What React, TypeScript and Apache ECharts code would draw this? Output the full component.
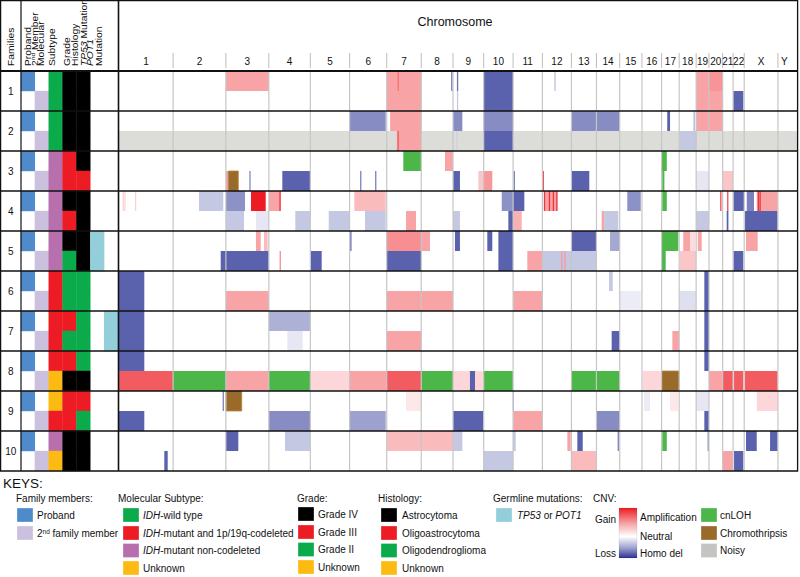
import React, { useEffect, useRef } from 'react';
import * as echarts from 'echarts';

const FONT = '"Liberation Sans", Arial, Helvetica, sans-serif';

// ---------- DATA ----------
const chromosomes = ['1','2','3','4','5','6','7','8','9','10','11','12','13','14','15','16','17','18','19','20','21','22','X','Y'];
const chromLengthsMb = [249.25,243.2,198.0,191.15,180.9,171.1,159.1,146.4,141.2,135.5,135.0,133.85,115.2,107.3,102.5,90.35,81.2,78.1,59.1,63.0,48.1,51.3,155.3,59.4];
const genomeMaxMb = 3124;

const families = ['1','2','3','4','5','6','7','8','9','10'];

// per sub-row (proband, 2nd member for each family)
const subtype = ['wt','wt','wt','wt','nc','nc','nc','nc','nc','nc','codel','codel','codel','codel','codel','unk','unk','codel','nc','unk'];
const grade = ['IV','IV','IV','IV','III','III','IV','III','IV','II','II','II','III','II','III','IV','III','III','IV','IV'];
const histology = ['A','A','A','A','A','OA','A','A','A','A','OD','OD','OD','OD','OD','A','OA','OD','A','A'];
const germline = ['','','','','','','','','TP53','TP53','','','POT1','POT1','','','','','',''];

// CNV segments: [sub-row, start (genome Mb), end (genome Mb), log2 ratio scaled -1..1]
const cnvSegments: number[][] = [
  // family 1
  [0,492.45,690.45,0.4],[0,1233.6,1392.7,0.4],[1,1233.6,1392.7,0.4],[0,1284,1289,0.62],
  [0,1532,1535,-0.9],[0,1558,1562,-0.9],[1,1558,1562,-0.35],
  [0,1680.3,1815.8,-1],[1,1680.3,1815.8,-1],[0,2007,2011,-0.4],
  [0,2659.3,2718.4,0.4],[1,2659.3,2781.4,0.4],[0,2718.4,2781.4,0.47],[1,2829.5,2877,-1],
  // family 2
  [2,1062.5,1229,-0.73],[2,1249,1392.7,0.4],[3,1280,1392.7,0.4],[3,1284,1288,0.75],
  [2,1539.1,1582,-0.73],[3,1554,1558,-0.3],[2,1680.3,1815.8,-0.73],[3,1680.3,1815.8,-1],
  [2,2084.65,2307.15,-0.73],[2,2526,2539,-1],[2,2648,2652,-0.5],[2,2659.3,2781.4,0.4],[3,2585,2659.3,-0.35],
  // family 3
  [4,1502,1538,0.4],[5,492.45,503.7,0.4],[5,601,606,-0.75],[5,752.5,881.6,-1],
  [5,1112,1116,-0.8],[5,1181,1185,-0.8],[5,1539.1,1571,-1],[5,1655.7,1680.3,0.25],[5,1680.3,1720,0.45],
  [5,1819,1824,-0.8],[5,1953,1957,0.8],[5,2084.65,2167,-1],[5,2659.3,2718.4,-0.15],[5,2781.4,2829.5,0.25],
  // family 4
  [6,18,21,0.2],[6,26,29,0.2],[6,75,78,0.2],[6,368.6,480.6,-0.35],[6,492.45,580.6,-0.7],
  [6,608.3,676,1.0],[6,690.45,745,0.4],[6,740,744,0.9],[6,1084.3,1229,0.3],
  [7,492.45,576,-0.35],[7,631.3,690.45,-0.15],[7,812.4,881.6,-0.35],[7,966.3,1062.5,-0.35],
  [7,1133.6,1229,-0.35],[7,1322.5,1368.6,0.4],[7,1539.1,1571,-0.35],
  [6,1763.5,1815.8,-0.7],[6,1815.8,1867.6,-1],[7,1794,1815.8,-1],[7,1815.8,1855.6,0.35],
  [6,1960,2020,0.4],[6,1959,1962,0.9],[6,1982,1985,0.9],[6,2000,2003,0.9],[6,2016,2019,0.9],
  [7,2224,2235,0.4],[7,2235,2300.7,-0.35],[6,2342,2404,-0.7],[7,2659.3,2718.4,-0.35],
  [6,2771,2775,0.8],[6,2803,2807,0.8],[7,2800,2808,-1],[6,2830.7,2880,-1],
  [6,2892.5,2926,-0.8],[6,2938.5,3035,0.4],[6,2944,2948,0.9],[6,2952,2956,0.9],[7,2884.6,3035,-1],
  // family 5
  [8,631,653,0.4],[8,668,685,0.3],[9,468.6,690.45,-1],[9,741,745,0.5],[8,1064,1072,-0.75],
  [9,884.7,934,-1],[8,1233.6,1392.7,0.5],[8,1392.7,1433,0.4],[9,1233.6,1392.7,-1],
  [8,1548,1571,-1],[8,1697,1720,-1],[8,1748,1815.8,-1],[9,1748,1815.8,-1],
  [9,1881.4,1950.8,0.4],[9,1950.8,2084.65,-0.35],[9,2038,2042,0.45],[9,2053,2057,0.45],
  [8,2084.65,2199.85,-1],[9,2084.65,2199.85,-0.35],[8,2262.5,2307.15,-0.55],
  [8,2600,2631,0.4],[8,2631,2655,0.15],[8,2666.6,2685,0.4],[9,2585,2659.3,0.25],
  [8,2889,2943,0.4],[9,2830.7,2876.8,-1],
  // family 6
  [10,0,116.6,-1],[11,0,116.6,-1],[11,492.45,690.45,0.4],[11,1233.6,1539.1,0.4],
  [10,2258,2275,-0.35],[11,1815.8,1950.8,0.4],[11,2307.15,2404,-0.12],[11,2581.2,2659.3,-0.2],
  [10,2697,2718.4,-1],[11,2697,2718.4,-1],
  // family 7
  [12,0,116.6,-1],[13,0,116.6,-1],[12,690.45,881.6,-0.5],[13,775.5,846.5,-0.15],
  [13,1233.6,1392.7,0.4],[13,2270,2307.15,-1],[13,2549.6,2581.2,0.4],[12,2697,2718.4,-1],[13,2697,2718.4,-1],
  // family 8
  [14,0,116.6,-1],[14,2697,2718.4,-1],[15,0,249.25,0.72],[15,492.45,690.45,0.4],
  [15,881.6,1062.5,0.18],[15,1062.5,1233.6,0.4],[15,1233.6,1392.7,0.72],
  [15,1539.1,1617,0.18],[15,1617,1640.5,-1],[15,1640.5,1680.3,0.18],[15,2413,2500,0.18],
  [15,2718.4,2781.4,0.4],[15,2781.4,2829.5,0.72],[15,2834,2876.8,0.72],[15,2884.6,3035.3,0.72],
  // family 9
  [16,478,483,-0.8],[17,0,116.6,-1],[17,690.45,881.6,-0.73],[17,1062.5,1229,-0.6],
  [16,1322.5,1392.7,0.1],[17,1539.1,1678.7,-1],[16,1815,1819,-0.5],[17,1815.8,1950.8,0.4],
  [17,2199.85,2307.15,-0.73],[16,2419,2447,-0.12],[16,2539,2577,0.1],[16,2659.3,2718.4,-0.15],
  [17,2697,2718.4,-1],[16,2938.5,3035.3,0.18],
  // family 10
  [19,208.7,224.4,-1],[18,492.45,549.7,-1],[18,764.9,881.6,-0.35],[18,1233.6,1539.1,0.3],
  [18,1539.1,1582,-0.35],[19,1680.3,1815.8,-0.35],[18,1815.8,1828,-0.35],
  [18,2065.8,2081.5,0.4],[18,2111.9,2136.8,-1],[19,2084.65,2199.85,0.3],[18,2298,2303,-0.8],
  [18,2713,2717,-0.8],[19,2781.4,2829.5,0.4],[19,2834,2876.8,-1],[18,2889,2938.5,-1],[18,2999.8,3035.3,-1],
];

// other events: [sub-row, start Mb, end Mb]
const noisyRegions: number[][] = [[3,0,3124]];
const cnLOHRegions: number[][] = [
  [4,1310,1392.7],[4,2500,2524],[5,2503,2513],[6,2503,2524],[8,2500,2577],[9,2500,2519],
  [15,249.25,492.45],[15,690.45,881.6],[15,1392.7,1539.1],[15,1680.3,1815.8],
  [15,2084.65,2199.85],[15,2199.85,2307.15],[18,2503,2524],
];
const chromothripsisRegions: number[][] = [[5,503.7,549.7],[15,2500,2581.2],[16,492.45,565.4]];

// ---------- STYLE ----------
const memberColors = { proband: '#4f8bcb', member: '#cbc1de' };
const subtypeColors: Record<string, string> = { wt: '#0bab4b', codel: '#ed1c24', nc: '#b76fae', unk: '#fdba12' };
const gradeColors: Record<string, string> = { IV: '#000000', III: '#ed1c24', II: '#0bab4b', unk: '#fdba12' };
const histColors: Record<string, string> = { A: '#000000', OA: '#ed1c24', OD: '#0bab4b', unk: '#fdba12' };
const germlineColor = '#93cedb';
const cnLOHColor = '#4cb748';
const chromoColor = '#9a6a2a';
const noisyColor = '#dcdcd9';

function mix(a: number[], b: number[], t: number) {
  const c = a.map((v, i) => Math.round(v + (b[i] - v) * t));
  return `rgb(${c[0]},${c[1]},${c[2]})`;
}
function cnvColor(v: number) {
  if (v >= 0) return mix([255, 255, 255], [237, 28, 36], Math.min(v, 1));
  return mix([255, 255, 255], [90, 98, 173], Math.min(-v, 1));
}

export default function App() {
  const ref = useRef<HTMLDivElement>(null);
  useEffect(() => {
    if (!ref.current) return;
    const chart = echarts.init(ref.current, undefined, { renderer: 'svg' });

    const starts: number[] = [];
    let acc = 0;
    chromLengthsMb.forEach((l) => { starts.push(acc); acc += l; });
    const boundaries = chromLengthsMb.slice(0, -1).map((l, i) => starts[i] + l);
    const mids = chromLengthsMb.map((l, i) => starts[i] + l / 2);

    // annotation data [col, row, color]
    const annot: any[] = [];
    for (let r = 0; r < 20; r++) {
      annot.push([r % 2 === 0 ? 0 : 1, r, r % 2 === 0 ? memberColors.proband : memberColors.member]);
      annot.push([2, r, subtypeColors[subtype[r]]]);
      annot.push([3, r, gradeColors[grade[r]]]);
      annot.push([4, r, histColors[histology[r]]]);
      if (germline[r] === 'TP53') annot.push([5, r, germlineColor]);
      if (germline[r] === 'POT1') annot.push([6, r, germlineColor]);
    }

    const rectFrom = (api: any, s: number, e: number, r: number, minW = 1.3) => {
      const p0 = api.coord([s, r]);
      const p1 = api.coord([e, r + 1]);
      let x = p0[0];
      let w = p1[0] - p0[0];
      if (w < minW) { x -= (minW - w) / 2; w = minW; }
      return { x, y: p0[1], width: w, height: p1[1] - p0[1] };
    };

    const regionSeries = (arr: number[][], color: string, z: number, stroke?: string) => ({
      type: 'custom', xAxisIndex: 1, yAxisIndex: 1, z, silent: true,
      data: arr.map((d, i) => [i]),
      renderItem: (params: any, api: any) => {
        const d = arr[params.dataIndex];
        return { type: 'rect', shape: rectFrom(api, d[1], d[2], d[0]), style: { fill: color, stroke: stroke || 'none', lineWidth: stroke ? 0.8 : 0 } };
      },
    });

    const textStyle = (extra: any) => ({ fontFamily: FONT, fontSize: 10, fill: '#111', ...extra });

    const graphic: any[] = [];
    // frame
    graphic.push({ type: 'rect', z: 100, shape: { x: 0.6, y: 0.6, width: 797, height: 470.4 }, style: { fill: 'none', stroke: '#111', lineWidth: 1.3 } });
    graphic.push({ type: 'line', z: 100, shape: { x1: 21, y1: 0, x2: 21, y2: 471 }, style: { stroke: '#111', lineWidth: 1.2 } });
    graphic.push({ type: 'line', z: 100, shape: { x1: 118.5, y1: 0, x2: 118.5, y2: 471 }, style: { stroke: '#111', lineWidth: 1.6 } });
    // header
    graphic.push({ type: 'text', x: 455, y: 22, style: textStyle({ text: 'Chromosome', fontSize: 12.5, textAlign: 'center', textVerticalAlign: 'middle' }) });
    const HF = 8.6;
    const headers: [number, string, any][] = [
      [10.8, 'Families', {}],
      [27.8, 'Proband', {}],
      [34.6, '2{sup|nd} Member', { sup: { fontSize: 5.5, fontFamily: FONT, verticalAlign: 'top', padding: [0, 0, 3, 0] } }],
      [41.2, 'Molecular', {}],
      [52.2, 'Subtype', {}],
      [67, 'Grade', {}],
      [75, 'Histology', {}],
      [83.7, '{i|TP53} Mutation', { i: { fontStyle: 'italic', fontSize: HF, fontFamily: FONT } }],
      [90.3, '{i|POT1}', { i: { fontStyle: 'italic', fontSize: HF, fontFamily: FONT } }],
      [98.8, 'Mutation', {}],
    ];
    headers.forEach(([x, t, rich]) => {
      graphic.push({ type: 'text', x, y: 66, rotation: Math.PI / 2, scaleX: 1.2, style: textStyle({ text: t, rich, fontSize: HF, textAlign: 'left', textVerticalAlign: 'middle' }) });
    });

    // legend
    const lg = (x: number, y: number, text: string, extra: any = {}) =>
      graphic.push({ type: 'text', x, y, style: textStyle({ text, textVerticalAlign: 'middle', ...extra }) });
    const box = (x: number, y: number, color: string) =>
      graphic.push({ type: 'rect', shape: { x, y, width: 16, height: 14 }, style: { fill: color, stroke: 'rgba(255,255,255,0.5)', lineWidth: 0.6 } });
    const italic = { i: { fontStyle: 'italic', fontSize: 10, fontFamily: FONT } };
    const rowsY = [508, 526, 543.5, 561];
    graphic.push({ type: 'text', x: 3, y: 483, style: textStyle({ text: 'KEYS:', fontSize: 13.5, textVerticalAlign: 'middle' }) });
    lg(16, 498, 'Family members:');
    box(17, rowsY[0], memberColors.proband); lg(37, rowsY[0] + 7, 'Proband');
    box(17, rowsY[1], memberColors.member);
    lg(37, rowsY[1] + 7, '2{sup|nd} family member', { rich: { sup: { fontSize: 6.5, fontFamily: FONT, verticalAlign: 'top', padding: [0, 0, 3, 0] } } });

    lg(118, 498, 'Molecular Subtype:');
    const subtypeLegend: [string, string][] = [['wt', '{i|IDH}-wild type'], ['codel', '{i|IDH}-mutant and 1p/19q-codeleted'], ['nc', '{i|IDH}-mutant non-codeleted'], ['unk', 'Unknown']];
    subtypeLegend.forEach(([k, t], i) => { box(123, rowsY[i], subtypeColors[k]); lg(143, rowsY[i] + 7, t, { rich: italic }); });

    lg(297, 498, 'Grade:');
    const gradeLegend: [string, string][] = [['IV', 'Grade IV'], ['III', 'Grade III'], ['II', 'Grade II'], ['unk', 'Unknown']];
    gradeLegend.forEach(([k, t], i) => { box(298, rowsY[i] - 1, gradeColors[k]); lg(318, rowsY[i] + 6, t); });

    lg(378, 498, 'Histology:');
    const histLegend: [string, string][] = [['A', 'Astrocytoma'], ['OA', 'Oligoastrocytoma'], ['OD', 'Oligodendroglioma'], ['unk', 'Unknown']];
    histLegend.forEach(([k, t], i) => { box(381, rowsY[i], histColors[k]); lg(402, rowsY[i] + 7, t); });

    lg(493, 498, 'Germline mutations:');
    box(496, rowsY[0], germlineColor); lg(517, rowsY[0] + 7, '{i|TP53} or {i|POT1}', { rich: italic });

    lg(593, 498, 'CNV:');
    graphic.push({
      type: 'rect', shape: { x: 619, y: 508, width: 18, height: 50 },
      style: {
        fill: new echarts.graphic.LinearGradient(0, 0, 0, 1, [
          { offset: 0, color: '#ed1c24' }, { offset: 0.3, color: '#f5a0a3' }, { offset: 0.57, color: '#ffffff' },
          { offset: 0.8, color: '#9da0cf' }, { offset: 1, color: '#2e3192' },
        ]),
        stroke: 'rgba(0,0,0,0.15)', lineWidth: 0.5,
      },
    });
    lg(616, 519, 'Gain', { textAlign: 'right' });
    lg(616, 553, 'Loss', { textAlign: 'right' });
    lg(640, 517, 'Amplification');
    lg(640, 536, 'Neutral');
    lg(640, 553, 'Homo del');
    box(701, rowsY[0], cnLOHColor); lg(720, rowsY[0] + 7, 'cnLOH');
    box(701, rowsY[1], chromoColor); lg(720, rowsY[1] + 7, 'Chromothripsis');
    box(701, rowsY[2], '#c4c4c2'); lg(720, rowsY[2] + 7, 'Noisy');

    chart.setOption({
      animation: false,
      backgroundColor: '#ffffff',
      grid: [
        { left: 21, top: 71, width: 97, height: 400 },
        { left: 119, top: 71, width: 678, height: 400 },
      ],
      xAxis: [
        { gridIndex: 0, type: 'value', min: 0, max: 7, show: false },
        { gridIndex: 1, type: 'value', min: 0, max: genomeMaxMb, show: false },
      ],
      yAxis: [
        { gridIndex: 0, type: 'value', min: 0, max: 20, inverse: true, show: false },
        { gridIndex: 1, type: 'value', min: 0, max: 20, inverse: true, show: false },
      ],
      graphic,
      series: [
        {
          type: 'custom', xAxisIndex: 0, yAxisIndex: 0, z: 2, silent: true,
          data: annot.map((d, i) => [i]),
          renderItem: (params: any, api: any) => {
            const d = annot[params.dataIndex];
            const p0 = api.coord([d[0], d[1]]);
            const p1 = api.coord([d[0] + 1, d[1] + 1]);
            return { type: 'rect', shape: { x: p0[0] - 0.2, y: p0[1] - 0.2, width: p1[0] - p0[0] + 0.4, height: p1[1] - p0[1] + 0.4 }, style: { fill: d[2] } };
          },
        },
        regionSeries(noisyRegions, noisyColor, 2),
        {
          type: 'custom', xAxisIndex: 1, yAxisIndex: 1, z: 3, silent: true,
          data: cnvSegments.map((d, i) => [i]),
          renderItem: (params: any, api: any) => {
            const d = cnvSegments[params.dataIndex];
            return { type: 'rect', shape: rectFrom(api, d[1], d[2], d[0]), style: { fill: cnvColor(d[3]) } };
          },
        },
        regionSeries(cnLOHRegions, cnLOHColor, 4),
        regionSeries(chromothripsisRegions, chromoColor, 4, '#b8843c'),
        {
          // chromosome separators
          type: 'custom', xAxisIndex: 1, yAxisIndex: 1, z: 6, silent: true,
          data: boundaries.map((b) => [b]),
          renderItem: (params: any, api: any) => {
            const b = boundaries[params.dataIndex];
            const top = api.coord([b, 0]);
            const bot = api.coord([b, 20]);
            return {
              type: 'group', children: [
                { type: 'line', shape: { x1: top[0], y1: top[1], x2: bot[0], y2: bot[1] }, style: { stroke: '#c6c6c6', lineWidth: 1.2 } },
                { type: 'line', shape: { x1: top[0], y1: top[1] - 18, x2: top[0], y2: top[1] - 3 }, style: { stroke: '#bdbdbd', lineWidth: 1 } },
              ],
            };
          },
        },
        {
          // chromosome labels
          type: 'custom', xAxisIndex: 1, yAxisIndex: 1, z: 6, silent: true,
          data: mids.map((m) => [m]),
          renderItem: (params: any, api: any) => {
            const p = api.coord([mids[params.dataIndex], 0]);
            return { type: 'text', x: p[0], y: p[1] - 9.5, style: { text: chromosomes[params.dataIndex], fontFamily: FONT, fontSize: 10, fill: '#111', textAlign: 'center', textVerticalAlign: 'middle' } };
          },
        },
        {
          // family separators and labels
          type: 'custom', xAxisIndex: 0, yAxisIndex: 0, z: 10, silent: true,
          data: families.map((f, i) => [i]),
          renderItem: (params: any, api: any) => {
            const i = params.dataIndex;
            const yTop = api.coord([0, 2 * i])[1];
            const yMid = api.coord([0, 2 * i + 1])[1];
            return {
              type: 'group', children: [
                { type: 'line', shape: { x1: 0, y1: yTop, x2: api.getWidth() - 2.4, y2: yTop }, style: { stroke: '#111', lineWidth: i === 0 ? 2 : 1.4 } },
                { type: 'text', x: 10.8, y: yMid, style: { text: families[i], fontFamily: FONT, fontSize: 10, fill: '#111', textAlign: 'center', textVerticalAlign: 'middle' } },
              ],
            };
          },
        },
      ],
    });
    return () => chart.dispose();
  }, []);
  return <div ref={ref} style={{ position: 'fixed', left: 0, top: 0, width: 800, height: 577, background: '#fff' }} />;
}
